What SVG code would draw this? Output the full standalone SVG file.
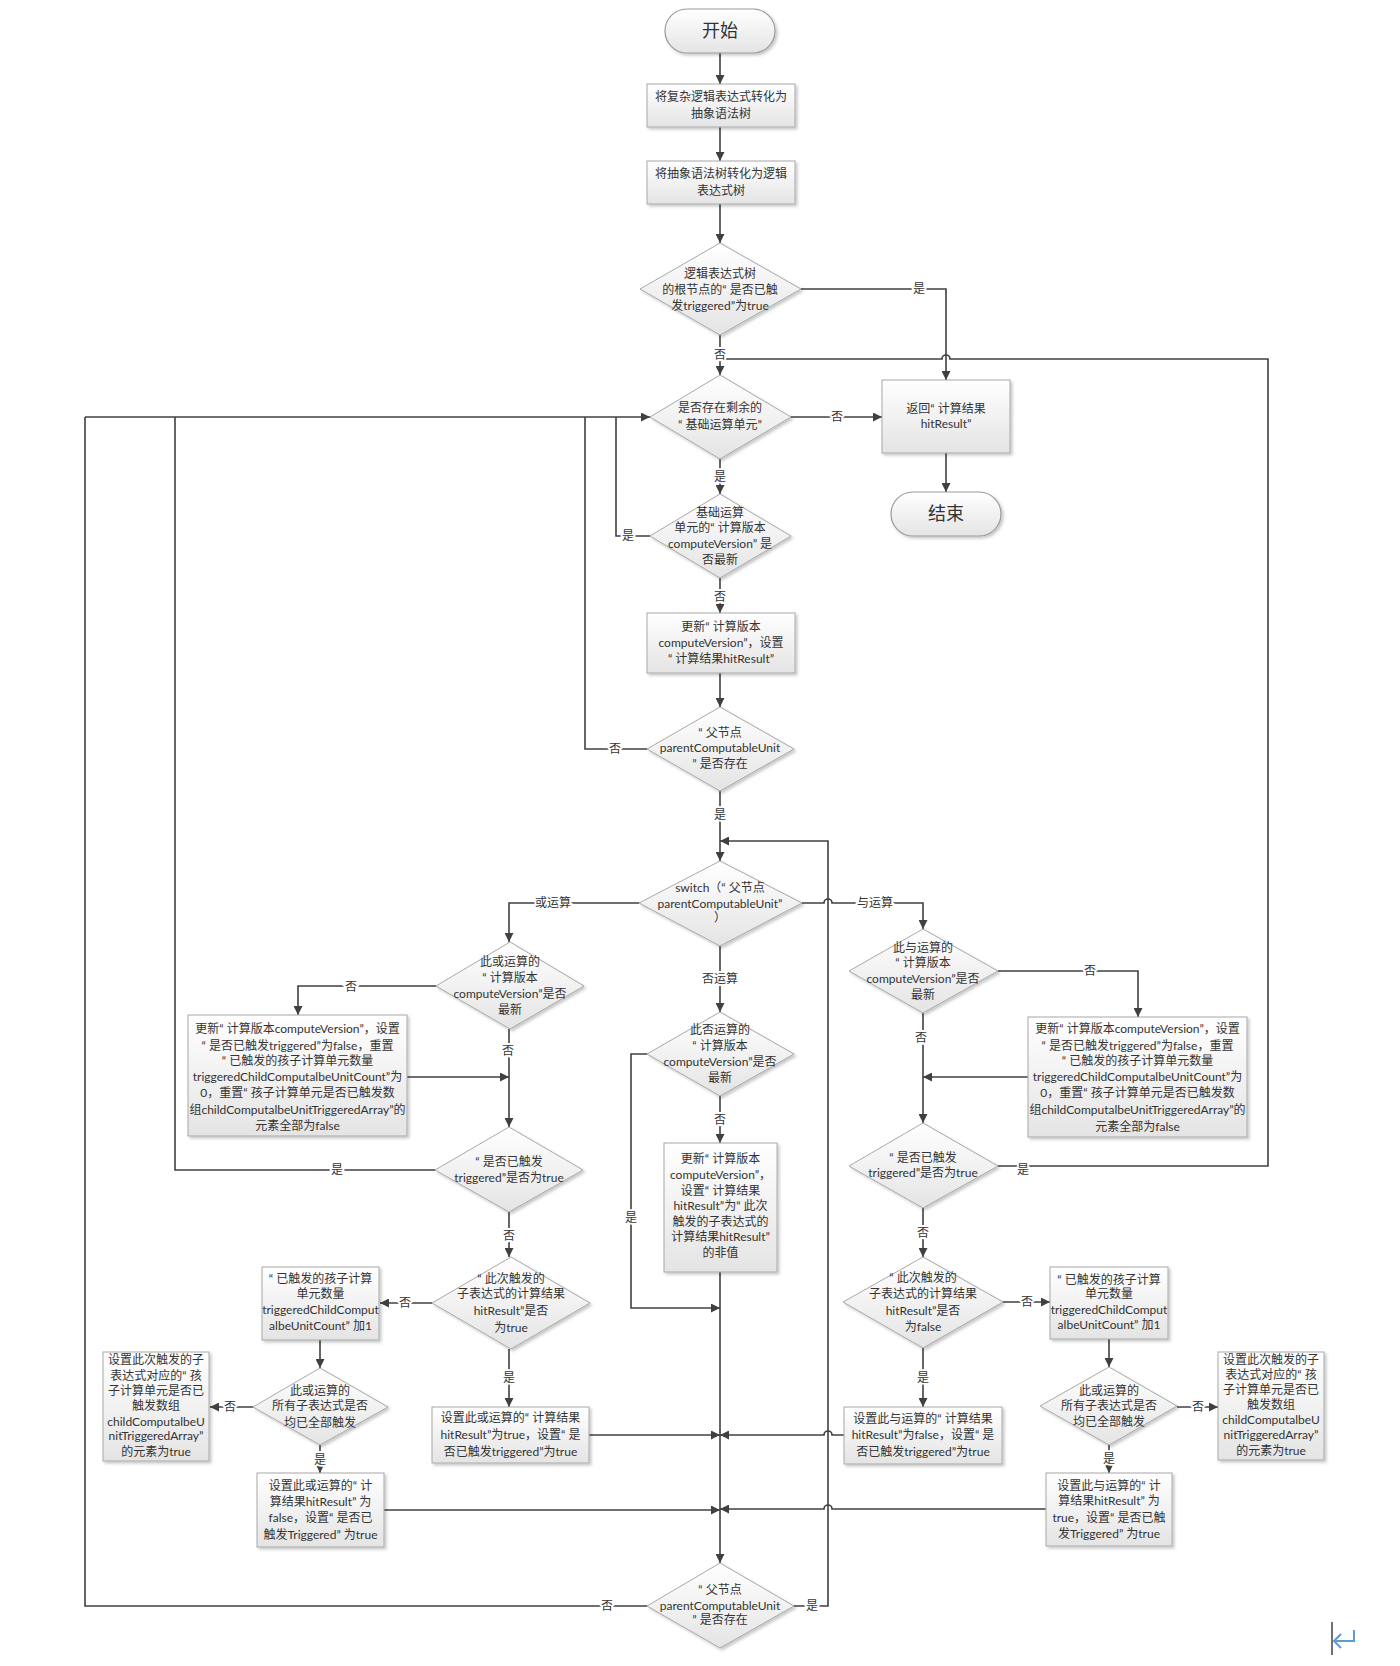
<svg xmlns="http://www.w3.org/2000/svg" width="1400" height="1666" viewBox="0 0 1400 1666">
<defs>
<linearGradient id="g" x1="0" y1="0" x2="0" y2="1">
<stop offset="0" stop-color="#ffffff"/>
<stop offset="1" stop-color="#e4e4e4"/>
</linearGradient>
<filter id="sh" x="-10%" y="-10%" width="130%" height="130%">
<feDropShadow dx="2" dy="2" stdDeviation="1.5" flood-color="#000" flood-opacity="0.22"/>
</filter>
<marker id="a" viewBox="0 0 10 10" refX="10" refY="5" markerWidth="10" markerHeight="9" markerUnits="userSpaceOnUse" orient="auto">
<path d="M0,0 L10,5 L0,10 z" fill="#404040"/>
</marker>
</defs>
<style>
.n{fill:url(#g);stroke:#a8a8a8;stroke-width:1;filter:url(#sh)}
.tm{fill:url(#g);stroke:#9a9a9a;stroke-width:1.2;filter:url(#sh)}
.t{font-family:"Lato","Noto Sans CJK SC",sans-serif;font-size:12px;fill:#333;text-anchor:middle}
.tt{font-family:"Noto Sans CJK SC","Liberation Sans",sans-serif;font-size:18px;fill:#333;text-anchor:middle}
.c{fill:none;stroke:#404040;stroke-width:1.6}
.ca{fill:none;stroke:#404040;stroke-width:1.6;marker-end:url(#a)}
.l{font-family:"Noto Sans CJK SC","Liberation Sans",sans-serif;font-size:12px;fill:#333;text-anchor:middle;stroke:#fff;stroke-width:4;paint-order:stroke}
</style>
<rect width="1400" height="1666" fill="#ffffff"/>

<g id="connectors">
<path class="ca" d="M720,53 V84"/>
<path class="ca" d="M720,127 V161"/>
<path class="ca" d="M720,204 V243"/>
<path class="ca" d="M801,289 H946 V380"/>
<path class="ca" d="M720,335 V375"/>
<path class="c" d="M998,1166 H1268 V359 H950 A4,4 0 0 0 942,359 H720"/>
<path class="ca" d="M791,417 H882"/>
<path class="ca" d="M946,453 V492"/>
<path class="ca" d="M720,459 V494"/>
<path class="c" d="M650,536 H616 V417"/>
<path class="ca" d="M85,417 H650"/>
<path class="ca" d="M720,578 V613"/>
<path class="ca" d="M720,673 V707"/>
<path class="c" d="M647,749 H585 V417"/>
<path class="ca" d="M720,791 V861"/>
<path class="ca" d="M794,1606 H828 V841 H720"/>
<path class="ca" d="M639,903 H509 V942"/>
<path class="ca" d="M802,903 H824 A4,4 0 0 1 832,903 H923 V929"/>
<path class="ca" d="M720,946 V1012"/>
<path class="ca" d="M436,986 H298 V1015"/>
<path class="ca" d="M509,1029 V1127"/>
<path class="ca" d="M407,1077 H509"/>
<path class="c" d="M435,1170 H175 V417"/>
<path class="ca" d="M509,1212 V1257"/>
<path class="ca" d="M432,1303 H380"/>
<path class="ca" d="M320,1340 V1368"/>
<path class="ca" d="M253,1407 H210"/>
<path class="ca" d="M320,1445 V1473"/>
<path class="ca" d="M509,1349 V1407"/>
<path class="ca" d="M589,1435 H720"/>
<path class="ca" d="M384,1510 H720"/>
<path class="ca" d="M647,1054 H631 V1308 H720"/>
<path class="ca" d="M720,1096 V1143"/>
<path class="ca" d="M720,1272 V1563"/>
<path class="ca" d="M998,971 H1138 V1017"/>
<path class="ca" d="M923,1013 V1123"/>
<path class="ca" d="M1028,1077 H923"/>
<path class="ca" d="M923,1208 V1257"/>
<path class="ca" d="M1003,1302 H1050"/>
<path class="ca" d="M1109,1339 V1367"/>
<path class="ca" d="M1177,1407 H1218"/>
<path class="ca" d="M1109,1445 V1473"/>
<path class="ca" d="M923,1348 V1407"/>
<path class="ca" d="M844,1435 H832 A4,4 0 0 0 824,1435 H720"/>
<path class="ca" d="M1046,1509 H832 A4,4 0 0 0 824,1509 H720"/>
<path class="c" d="M647,1606 H85 V417"/>

<text class="l" x="919" y="293">是</text>
<text class="l" x="720" y="359">否</text>
<text class="l" x="837" y="421">否</text>
<text class="l" x="720" y="481">是</text>
<text class="l" x="628" y="540">是</text>
<text class="l" x="720" y="601">否</text>
<text class="l" x="615" y="753">否</text>
<text class="l" x="720" y="819">是</text>
<text class="l" x="553" y="907">或运算</text>
<text class="l" x="875" y="907">与运算</text>
<text class="l" x="720" y="983">否运算</text>
<text class="l" x="351" y="991">否</text>
<text class="l" x="508" y="1055">否</text>
<text class="l" x="1090" y="975">否</text>
<text class="l" x="921" y="1042">否</text>
<text class="l" x="720" y="1124">否</text>
<text class="l" x="631" y="1222">是</text>
<text class="l" x="337" y="1174">是</text>
<text class="l" x="1023" y="1174">是</text>
<text class="l" x="509" y="1240">否</text>
<text class="l" x="923" y="1237">否</text>
<text class="l" x="405" y="1307">否</text>
<text class="l" x="230" y="1411">否</text>
<text class="l" x="320" y="1464">是</text>
<text class="l" x="509" y="1382">是</text>
<text class="l" x="1027" y="1306">否</text>
<text class="l" x="1198" y="1411">否</text>
<text class="l" x="1109" y="1463">是</text>
<text class="l" x="923" y="1382">是</text>
<text class="l" x="607" y="1610">否</text>
<text class="l" x="812" y="1610">是</text>
</g>

<g id="start">
<rect class="tm" x="665" y="9" width="110" height="44" rx="22" ry="22"/>
<text class="tt" x="720" y="37">开始</text>
</g>

<g id="ast">
<rect class="n" x="647" y="84" width="148" height="43"/>
<text class="t"><tspan x="721" y="101">将复杂逻辑表达式转化为</tspan><tspan x="721" y="118">抽象语法树</tspan></text>
</g>

<g id="tree">
<rect class="n" x="647" y="161" width="148" height="43"/>
<text class="t"><tspan x="721" y="178">将抽象语法树转化为逻辑</tspan><tspan x="721" y="195">表达式树</tspan></text>
</g>

<g id="rootTriggered">
<polygon class="n" points="720,243 801,289 720,335 640,289"/>
<text class="t"><tspan x="720" y="278">逻辑表达式树</tspan><tspan x="720" y="294">的根节点的“ 是否已触</tspan><tspan x="720" y="310">发triggered”为true</tspan></text>
</g>

<g id="remaining">
<polygon class="n" points="720,375 791,417 720,459 650,417"/>
<text class="t"><tspan x="720" y="412">是否存在剩余的</tspan><tspan x="720" y="429">“ 基础运算单元”</tspan></text>
</g>

<g id="returnResult">
<rect class="n" x="882" y="380" width="128" height="73"/>
<text class="t"><tspan x="946" y="413">返回“ 计算结果</tspan><tspan x="946" y="428">hitResult”</tspan></text>
</g>

<g id="end">
<rect class="tm" x="891" y="492" width="110" height="44" rx="22" ry="22"/>
<text class="tt" x="946" y="520">结束</text>
</g>

<g id="baseVersion">
<polygon class="n" points="720,494 791,536 720,578 650,536"/>
<text class="t"><tspan x="720" y="517">基础运算</tspan><tspan x="720" y="532">单元的“ 计算版本</tspan><tspan x="720" y="548">computeVersion” 是</tspan><tspan x="720" y="564">否最新</tspan></text>
</g>

<g id="baseUpdate">
<rect class="n" x="647" y="613" width="148" height="60"/>
<text class="t"><tspan x="721" y="631">更新“ 计算版本</tspan><tspan x="721" y="647">computeVersion”，设置</tspan><tspan x="721" y="663">“ 计算结果hitResult”</tspan></text>
</g>

<g id="parentExists1">
<polygon class="n" points="720,707 794,749 720,791 647,749"/>
<text class="t"><tspan x="720" y="737">“ 父节点</tspan><tspan x="720" y="752">parentComputableUnit</tspan><tspan x="720" y="768">” 是否存在</tspan></text>
</g>

<g id="switch">
<polygon class="n" points="720,861 802,903 720,946 639,903"/>
<text class="t"><tspan x="720" y="892">switch（“ 父节点</tspan><tspan x="720" y="908">parentComputableUnit”</tspan><tspan x="720" y="922">）</tspan></text>
</g>

<g id="orVersion">
<polygon class="n" points="510,942 584,986 510,1029 436,986"/>
<text class="t"><tspan x="510" y="966">此或运算的</tspan><tspan x="510" y="982">“ 计算版本</tspan><tspan x="510" y="998">computeVersion”是否</tspan><tspan x="510" y="1014">最新</tspan></text>
</g>

<g id="orUpdate">
<rect class="n" x="188" y="1015" width="219" height="121"/>
<text class="t"><tspan x="297.5" y="1033">更新“ 计算版本computeVersion”，设置</tspan><tspan x="297.5" y="1050">“ 是否已触发triggered”为false，重置</tspan><tspan x="297.5" y="1065">“ 已触发的孩子计算单元数量</tspan><tspan x="297.5" y="1081">triggeredChildComputalbeUnitCount”为</tspan><tspan x="297.5" y="1097">0，重置“ 孩子计算单元是否已触发数</tspan><tspan x="297.5" y="1114">组childComputalbeUnitTriggeredArray”的</tspan><tspan x="297.5" y="1130">元素全部为false</tspan></text>
</g>

<g id="orTriggered">
<polygon class="n" points="509,1127 583,1170 509,1212 435,1170"/>
<text class="t"><tspan x="509" y="1166">“ 是否已触发</tspan><tspan x="509" y="1182">triggered”是否为true</tspan></text>
</g>

<g id="orHit">
<polygon class="n" points="511,1257 590,1303 511,1349 432,1303"/>
<text class="t"><tspan x="511" y="1283">“ 此次触发的</tspan><tspan x="511" y="1298">子表达式的计算结果</tspan><tspan x="511" y="1315">hitResult”是否</tspan><tspan x="511" y="1332">为true</tspan></text>
</g>

<g id="orCount">
<rect class="n" x="262" y="1267" width="117" height="73"/>
<text class="t"><tspan x="320.5" y="1283">“ 已触发的孩子计算</tspan><tspan x="320.5" y="1298">单元数量</tspan><tspan x="320.5" y="1314">triggeredChildComput</tspan><tspan x="320.5" y="1330">albeUnitCount” 加1</tspan></text>
</g>

<g id="orAll">
<polygon class="n" points="320,1368 388,1407 320,1445 253,1407"/>
<text class="t"><tspan x="320" y="1395">此或运算的</tspan><tspan x="320" y="1410">所有子表达式是否</tspan><tspan x="320" y="1427">均已全部触发</tspan></text>
</g>

<g id="orArray">
<rect class="n" x="103" y="1352" width="106" height="109"/>
<text class="t"><tspan x="156" y="1364">设置此次触发的子</tspan><tspan x="156" y="1380">表达式对应的“ 孩</tspan><tspan x="156" y="1395">子计算单元是否已</tspan><tspan x="156" y="1410">触发数组</tspan><tspan x="156" y="1426">childComputalbeU</tspan><tspan x="156" y="1440">nitTriggeredArray”</tspan><tspan x="156" y="1456">的元素为true</tspan></text>
</g>

<g id="orFalse">
<rect class="n" x="257" y="1473" width="127" height="74"/>
<text class="t"><tspan x="320.5" y="1490">设置此或运算的“ 计</tspan><tspan x="320.5" y="1506">算结果hitResult” 为</tspan><tspan x="320.5" y="1522">false，设置“ 是否已</tspan><tspan x="320.5" y="1539">触发Triggered” 为true</tspan></text>
</g>

<g id="orTrue">
<rect class="n" x="432" y="1407" width="157" height="56"/>
<text class="t"><tspan x="510.5" y="1422">设置此或运算的“ 计算结果</tspan><tspan x="510.5" y="1439">hitResult”为true，设置“ 是</tspan><tspan x="510.5" y="1456">否已触发triggered”为true</tspan></text>
</g>

<g id="notVersion">
<polygon class="n" points="720,1012 794,1054 720,1096 647,1054"/>
<text class="t"><tspan x="720" y="1034">此否运算的</tspan><tspan x="720" y="1050">“ 计算版本</tspan><tspan x="720" y="1066">computeVersion”是否</tspan><tspan x="720" y="1082">最新</tspan></text>
</g>

<g id="notUpdate">
<rect class="n" x="664" y="1143" width="113" height="129"/>
<text class="t"><tspan x="720.5" y="1163">更新“ 计算版本</tspan><tspan x="720.5" y="1179">computeVersion”，</tspan><tspan x="720.5" y="1195">设置“ 计算结果</tspan><tspan x="720.5" y="1210">hitResult”为“ 此次</tspan><tspan x="720.5" y="1226">触发的子表达式的</tspan><tspan x="720.5" y="1241">计算结果hitResult”</tspan><tspan x="720.5" y="1257">的非值</tspan></text>
</g>

<g id="andVersion">
<polygon class="n" points="923,929 998,971 923,1013 849,971"/>
<text class="t"><tspan x="923" y="952">此与运算的</tspan><tspan x="923" y="967">“ 计算版本</tspan><tspan x="923" y="983">computeVersion”是否</tspan><tspan x="923" y="999">最新</tspan></text>
</g>

<g id="andUpdate">
<rect class="n" x="1028" y="1017" width="219" height="120"/>
<text class="t"><tspan x="1137.5" y="1033">更新“ 计算版本computeVersion”，设置</tspan><tspan x="1137.5" y="1050">“ 是否已触发triggered”为false，重置</tspan><tspan x="1137.5" y="1065">“ 已触发的孩子计算单元数量</tspan><tspan x="1137.5" y="1081">triggeredChildComputalbeUnitCount”为</tspan><tspan x="1137.5" y="1097">0，重置“ 孩子计算单元是否已触发数</tspan><tspan x="1137.5" y="1114">组childComputalbeUnitTriggeredArray”的</tspan><tspan x="1137.5" y="1131">元素全部为false</tspan></text>
</g>

<g id="andTriggered">
<polygon class="n" points="923,1123 998,1166 923,1208 849,1166"/>
<text class="t"><tspan x="923" y="1162">“ 是否已触发</tspan><tspan x="923" y="1177">triggered”是否为true</tspan></text>
</g>

<g id="andHit">
<polygon class="n" points="923,1257 1003,1302 923,1348 843,1302"/>
<text class="t"><tspan x="923" y="1282">“ 此次触发的</tspan><tspan x="923" y="1298">子表达式的计算结果</tspan><tspan x="923" y="1315">hitResult”是否</tspan><tspan x="923" y="1331">为false</tspan></text>
</g>

<g id="andCount">
<rect class="n" x="1050" y="1267" width="118" height="72"/>
<text class="t"><tspan x="1109" y="1284">“ 已触发的孩子计算</tspan><tspan x="1109" y="1298">单元数量</tspan><tspan x="1109" y="1314">triggeredChildComput</tspan><tspan x="1109" y="1329">albeUnitCount” 加1</tspan></text>
</g>

<g id="andAll">
<polygon class="n" points="1109,1367 1177,1406 1109,1445 1040,1406"/>
<text class="t"><tspan x="1109" y="1395">此或运算的</tspan><tspan x="1109" y="1410">所有子表达式是否</tspan><tspan x="1109" y="1426">均已全部触发</tspan></text>
</g>

<g id="andArray">
<rect class="n" x="1218" y="1352" width="106" height="108"/>
<text class="t"><tspan x="1271" y="1364">设置此次触发的子</tspan><tspan x="1271" y="1379">表达式对应的“ 孩</tspan><tspan x="1271" y="1394">子计算单元是否已</tspan><tspan x="1271" y="1409">触发数组</tspan><tspan x="1271" y="1424">childComputalbeU</tspan><tspan x="1271" y="1439">nitTriggeredArray”</tspan><tspan x="1271" y="1455">的元素为true</tspan></text>
</g>

<g id="andFalse">
<rect class="n" x="844" y="1407" width="158" height="57"/>
<text class="t"><tspan x="923" y="1423">设置此与运算的“ 计算结果</tspan><tspan x="923" y="1439">hitResult”为false，设置“ 是</tspan><tspan x="923" y="1456">否已触发triggered”为true</tspan></text>
</g>

<g id="andTrue">
<rect class="n" x="1046" y="1473" width="126" height="73"/>
<text class="t"><tspan x="1109" y="1490">设置此与运算的“ 计</tspan><tspan x="1109" y="1505">算结果hitResult” 为</tspan><tspan x="1109" y="1522">true，设置“ 是否已触</tspan><tspan x="1109" y="1538">发Triggered” 为true</tspan></text>
</g>

<g id="parentExists2">
<polygon class="n" points="720,1563 794,1606 720,1648 647,1606"/>
<text class="t"><tspan x="720" y="1594">“ 父节点</tspan><tspan x="720" y="1610">parentComputableUnit</tspan><tspan x="720" y="1624">” 是否存在</tspan></text>
</g>

<g id="cursor">
<line x1="1332" y1="1622" x2="1332" y2="1655" stroke="#111" stroke-width="1.2"/>
<path d="M1354,1630 V1641 H1334 M1341,1634 L1334,1641 L1341,1648" fill="none" stroke="#5b9bd5" stroke-width="2"/>
</g>
</svg>
